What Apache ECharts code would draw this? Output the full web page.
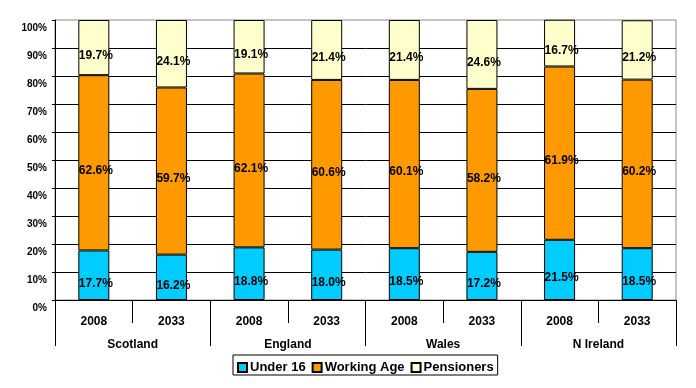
<!DOCTYPE html>
<html><head><meta charset="utf-8">
<script src="https://cdn.jsdelivr.net/npm/echarts@6/dist/echarts.min.js"></script>
<style>html,body{margin:0;padding:0;background:#fff}#c{width:696px;height:388px}</style>
</head><body><div id="c"></div>
<script>
var years = ['2008','2033','2008','2033','2008','2033','2008','2033'];
var groups = ['Scotland','England','Wales','N Ireland'];
var under16 = [17.7,16.2,18.8,18.0,18.5,17.2,21.5,18.5];
var workingAge = [62.6,59.7,62.1,60.6,60.1,58.2,61.9,60.2];
var pensioners = [19.7,24.1,19.1,21.4,21.4,24.6,16.7,21.2];
var yTicks = ['0%','10%','20%','30%','40%','50%','60%','70%','80%','90%','100%'];

var FONT = 'Liberation Sans, Arial, sans-serif';
function mk(name, data, color) {
  return {
    name: name, type: 'bar', stack: 'a', data: data, barWidth: 31,
    itemStyle: {color: color, borderColor: '#000', borderWidth: 1},
    label: {show: true, position: 'inside', offset: [2, 8], color: '#000',
      fontFamily: FONT, fontWeight: 'bold', fontSize: 12,
      formatter: function(p){ return p.value.toFixed(1) + '%'; }}
  };
}
var chart = echarts.init(document.getElementById('c'));
chart.setOption({
  animation: false,
  grid: {left: 55, right: 20, top: 20, bottom: 88, show: true, borderColor: '#888', borderWidth: 1},
  legend: {
    left: 233, top: 355, data: ['Under 16','Working Age','Pensioners'],
    itemWidth: 9, itemHeight: 9, itemGap: 6, padding: [6, 4, 1, 4],
    borderColor: '#000', borderWidth: 1, icon: 'rect',
    textStyle: {fontFamily: FONT, fontWeight: 'bold', fontSize: 13, color: '#000', padding: [3,0,0,-2]}
  },
  xAxis: [
    {type: 'category', data: years, position: 'bottom', boundaryGap: true,
     axisLine: {show: true, lineStyle: {color: '#000'}},
     axisTick: {show: true, alignWithLabel: false, length: 23, interval: 0, lineStyle: {color: '#000', width: 1}},
     axisLabel: {margin: 16, interval: 0, color: '#000', fontFamily: FONT, fontWeight: 'bold', fontSize: 12}},
    {type: 'category', data: groups, position: 'bottom', boundaryGap: true,
     axisLine: {show: true, lineStyle: {color: '#000'}},
     axisTick: {show: true, alignWithLabel: false, length: 46, interval: 0, lineStyle: {color: '#000', width: 1}},
     axisLabel: {margin: 39, interval: 0, color: '#000', fontFamily: FONT, fontWeight: 'bold', fontSize: 12}}
  ],
  yAxis: {
    type: 'value', min: 0, max: 100, interval: 10,
    axisLine: {show: true, lineStyle: {color: '#000'}},
    axisTick: {show: true, length: 3, lineStyle: {color: '#000'}},
    splitLine: {show: true, showMaxLine: false, lineStyle: {color: '#000'}},
    axisLabel: {margin: 8, color: '#000', fontFamily: FONT, fontWeight: 'bold', fontSize: 10,
      verticalAlign: 'top', padding: [3,0,0,0],
      formatter: function(v){ return yTicks[Math.round(v/10)]; }}
  },
  series: [
    mk('Under 16', under16, '#00CCFF'),
    mk('Working Age', workingAge, '#FF9900'),
    mk('Pensioners', pensioners, '#FFFFCC')
  ]
});
</script></body></html>
